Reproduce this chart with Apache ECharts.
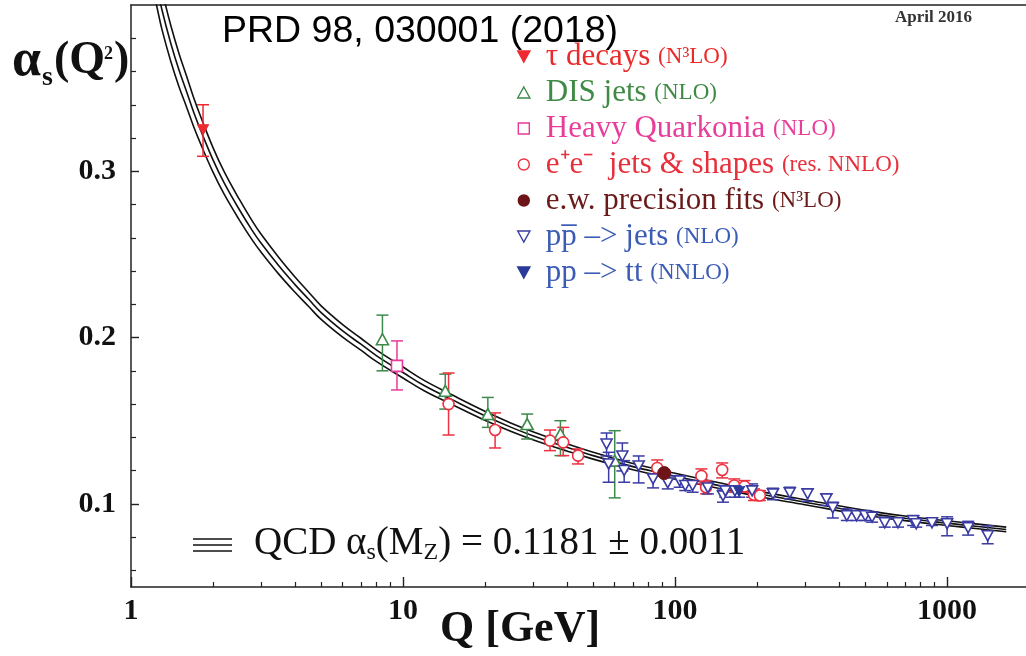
<!DOCTYPE html>
<html>
<head>
<meta charset="utf-8">
<script src="https://cdn.jsdelivr.net/npm/echarts@6/dist/echarts.min.js"></script>
<style>
html, body { margin: 0; padding: 0; background: #fff; }
#main { width: 1026px; height: 656px; }
</style>
</head>
<body>
<div id="main"></div>
<script>
// axis ticks
var xMajor = [1, 10, 100, 1000];
var xMinor = [2, 3, 4, 5, 6, 7, 8, 9, 20, 30, 40, 50, 60, 70, 80, 90, 200, 300, 400, 500, 600, 700, 800, 900];
var yMajor = [0.1, 0.2, 0.3];
var yMinor = [0.06, 0.08, 0.12, 0.14, 0.16, 0.18, 0.22, 0.24, 0.26, 0.28, 0.32, 0.34, 0.36, 0.38];

// QCD band (three lines)
var curveQ   = [1.2, 1.25, 1.3, 1.4, 1.5, 1.6, 1.7, 1.8, 2, 2.2, 2.5, 2.8, 3, 3.5, 4, 4.5, 5, 6, 7, 8, 10, 12, 15, 20, 25, 30, 40, 50, 70, 91.2, 100, 150, 200, 300, 500, 700, 1000, 1300, 1650];
var curveMid = [0.424, 0.410, 0.397, 0.377, 0.361, 0.348, 0.3355, 0.325, 0.307, 0.293, 0.277, 0.264, 0.257, 0.243, 0.232, 0.223, 0.215, 0.204, 0.196, 0.189, 0.179, 0.171, 0.163, 0.153, 0.146, 0.141, 0.134, 0.129, 0.1224, 0.1181, 0.1166, 0.1105, 0.1062, 0.1010, 0.0946, 0.0913, 0.0884, 0.0864, 0.0846];
var curveUp  = [0.4370, 0.4224, 0.4088, 0.3878, 0.3710, 0.3573, 0.3442, 0.3332, 0.3144, 0.2998, 0.2832, 0.2697, 0.2624, 0.2480, 0.2366, 0.2273, 0.2191, 0.2078, 0.1996, 0.1925, 0.1823, 0.1741, 0.1659, 0.1557, 0.1485, 0.1434, 0.1362, 0.1311, 0.1243, 0.1199, 0.1184, 0.1122, 0.1078, 0.1025, 0.0961, 0.0927, 0.0898, 0.0878, 0.0860];
var curveLow = [0.4110, 0.3976, 0.3852, 0.3662, 0.3510, 0.3387, 0.3268, 0.3168, 0.2996, 0.2862, 0.2708, 0.2583, 0.2516, 0.2380, 0.2274, 0.2187, 0.2109, 0.2002, 0.1924, 0.1855, 0.1757, 0.1679, 0.1601, 0.1503, 0.1435, 0.1386, 0.1318, 0.1269, 0.1205, 0.1163, 0.1148, 0.1088, 0.1046, 0.0995, 0.0931, 0.0899, 0.0870, 0.0850, 0.0832];

// measurements: [Q, alpha, low, high]
var tauDecays = [[1.84, 0.325, 0.309, 0.340]];
var disJets = [
    [8.4, 0.199, 0.180, 0.2135], [14.3, 0.168, 0.157, 0.178], [20.5, 0.154, 0.146, 0.164],
    [28.6, 0.148, 0.139, 0.154], [37.9, 0.142, 0.129, 0.150], [60, 0.126, 0.1036, 0.144]
];
var quarkonia = [[9.5, 0.183, 0.1685, 0.198]];
var eeJets = [
    [14.7, 0.160, 0.1414, 0.1787], [21.8, 0.1444, 0.1336, 0.1547], [34.7, 0.138, 0.132, 0.1444],
    [38.8, 0.137, 0.129, 0.146], [44, 0.129, 0.124, 0.133], [86, 0.1216, 0.118, 0.1264],
    [125, 0.1168, 0.112, 0.121], [130, 0.110, 0.106, 0.114], [149, 0.1204, 0.1156, 0.1246],
    [165, 0.111, 0.107, 0.115], [180, 0.1105, 0.107, 0.114], [195, 0.1055, 0.102, 0.109],
    [205, 0.105, 0.102, 0.108]
];
var ewFits = [[91.2, 0.1185, 0.1185, 0.1185]];
var ppJets = [
    [56, 0.136, 0.1288, 0.1426], [57, 0.124, 0.113, 0.131], [64, 0.1288, 0.1198, 0.1366],
    [65, 0.120, 0.113, 0.126], [73.5, 0.1228, 0.1126, 0.1288], [83, 0.115, 0.1096, 0.118],
    [94, 0.1126, 0.109, 0.1168], [104, 0.1138, 0.110, 0.117], [109, 0.111, 0.108, 0.114],
    [116, 0.111, 0.107, 0.114], [132, 0.1096, 0.106, 0.113], [150, 0.1048, 0.101, 0.109],
    [153, 0.1078, 0.104, 0.111], [166, 0.1078, 0.104, 0.111], [192, 0.1078, 0.104, 0.112],
    [229, 0.106, 0.1025, 0.1094], [264, 0.1066, 0.103, 0.110], [307, 0.106, 0.1015, 0.109],
    [360, 0.103, 0.099, 0.106], [380, 0.0976, 0.0915, 0.101], [428, 0.0928, 0.090, 0.097],
    [465, 0.0928, 0.090, 0.096], [500, 0.0928, 0.090, 0.096], [530, 0.092, 0.089, 0.095],
    [590, 0.0886, 0.086, 0.092], [660, 0.0886, 0.086, 0.091], [750, 0.0898, 0.087, 0.093],
    [770, 0.088, 0.086, 0.091], [880, 0.0886, 0.087, 0.090], [1000, 0.088, 0.0808, 0.0922],
    [1195, 0.0856, 0.0812, 0.0895], [1410, 0.0808, 0.076, 0.0868]
];
var ppTT = [[172, 0.1075, 0.104, 0.111]];

var DOWN = 'path://M0,0L10,0L5,9Z';
var UP = 'path://M5,0L10,9L0,9Z';
var SQUARE = 'path://M0,0L10,0L10,10L0,10Z';

var labelMain = {
    tau: '\u03c4 decays', dis: 'DIS jets', hq: 'Heavy Quarkonia', ee: 'e\u207ae\u207b  jets & shapes',
    ew: 'e.w. precision fits', ppj: 'pp\u0305 \u2013> jets', pptt: 'pp \u2013> tt'
};
var labelSub = {
    tau: '(N\u00b3LO)', dis: '(NLO)', hq: '(NLO)', ee: '(res. NNLO)',
    ew: '(N\u00b3LO)', ppj: '(NLO)', pptt: '(NNLO)'
};

function zip(xs, ys) {
    return xs.map(function (x, i) { return [x, ys[i]]; });
}

function bandLine(ys) {
    return {
        type: 'line', data: zip(curveQ, ys), smooth: 0.4, showSymbol: false, silent: true,
        lineStyle: { color: '#111', width: 1.6 }, z: 1
    };
}

function errBars(rows, color) {
    return {
        type: 'custom', silent: true, z: 2,
        data: rows.map(function (r) { return [r[0], r[2], r[3]]; }),
        encode: { x: 0, y: [1, 2] },
        renderItem: function (params, api) {
            var lo = api.coord([api.value(0), api.value(1)]);
            var hi = api.coord([api.value(0), api.value(2)]);
            var w = 6;
            var st = { stroke: color, lineWidth: 1.5 };
            return {
                type: 'group', children: [
                    { type: 'line', shape: { x1: lo[0], y1: lo[1], x2: hi[0], y2: hi[1] }, style: st },
                    { type: 'line', shape: { x1: lo[0] - w, y1: lo[1], x2: lo[0] + w, y2: lo[1] }, style: st },
                    { type: 'line', shape: { x1: hi[0] - w, y1: hi[1], x2: hi[0] + w, y2: hi[1] }, style: st }
                ]
            };
        }
    };
}

function points(name, rows, symbol, size, color, open) {
    return {
        type: 'scatter', name: name, z: 3,
        data: rows.map(function (r) { return [r[0], r[1]]; }),
        symbol: symbol, symbolSize: size,
        itemStyle: open ? { color: '#fff', borderColor: color, borderWidth: 1.6, opacity: 1 }
                        : { color: color, borderColor: color, borderWidth: 1, opacity: 1 }
    };
}

var cTau = '#ee2a30', cDis = '#3d8a4a', cHq = '#e8399a', cEe = '#ee3040', cEw = '#6e1418', cPp = '#3a3ca4';

var myChart = echarts.init(document.getElementById('main'));
var serif = '"Liberation Serif", "Times New Roman", serif';

var option = {
    backgroundColor: '#fff',
    animation: false,
    grid: { left: 131, right: 0, top: 5, bottom: 69, show: false },
    xAxis: [{
        type: 'log', logBase: 10, min: 1, max: 1950,
        axisLine: { show: true, lineStyle: { color: '#222', width: 1.5 } },
        axisTick: { inside: true, length: 10, customValues: xMajor, lineStyle: { color: '#222', width: 1.4 } },
        axisLabel: {
            customValues: xMajor, margin: 9, color: '#111', fontFamily: serif, fontWeight: 'bold', fontSize: 30,
            formatter: function (v) { return String(Math.round(v)); }
        },
        splitLine: { show: false }
    }, {
        type: 'log', logBase: 10, min: 1, max: 1950, position: 'bottom',
        axisLine: { show: false },
        axisTick: { inside: true, length: 5, customValues: xMinor, lineStyle: { color: '#222', width: 1.2 } },
        axisLabel: { show: false },
        splitLine: { show: false }
    }, {
        type: 'log', logBase: 10, min: 1, max: 1950, position: 'top',
        axisLine: { show: true, lineStyle: { color: '#222', width: 1.5 } },
        axisTick: { show: false },
        axisLabel: { show: false },
        splitLine: { show: false }
    }],
    yAxis: [{
        type: 'value', min: 0.05, max: 0.4,
        axisLine: { show: true, lineStyle: { color: '#222', width: 1.5 } },
        axisTick: { show: true, inside: true, length: 8, customValues: yMajor, lineStyle: { color: '#222', width: 1.4 } },
        axisLabel: { customValues: yMajor, margin: 15, color: '#111', fontFamily: serif, fontWeight: 'bold', fontSize: 30 },
        splitLine: { show: false }
    }, {
        type: 'value', min: 0.05, max: 0.4, position: 'left',
        axisLine: { show: false },
        axisTick: { show: true, inside: true, length: 5, customValues: yMinor, lineStyle: { color: '#222', width: 1.2 } },
        axisLabel: { show: false },
        splitLine: { show: false }
    }],
    legend: {
        orient: 'vertical', left: 512, top: 36, itemGap: 5,
        itemWidth: 34, itemHeight: 11, selectedMode: false,
        itemStyle: { borderWidth: 1.4 },
        data: [
            { name: 'tau', textStyle: { color: '#ea2b2b' } },
            { name: 'dis', textStyle: { color: '#3f8a45' } },
            { name: 'hq', textStyle: { color: '#e83e9a' } },
            { name: 'ee', textStyle: { color: '#e8303c' } },
            { name: 'ew', textStyle: { color: '#6b1a1a' } },
            { name: 'ppj', textStyle: { color: '#3b5cb5' } },
            { name: 'pptt', textStyle: { color: '#3b5cb5' } }
        ],
        formatter: function (name) {
            return '{m|' + labelMain[name] + ' }{s|' + labelSub[name] + '}';
        },
        textStyle: {
            fontFamily: serif,
            rich: {
                m: { fontFamily: serif, fontSize: 31, lineHeight: 30 },
                s: { fontFamily: serif, fontSize: 23, lineHeight: 30 }
            }
        }
    },
    graphic: [
        { type: 'text', left: 222, top: 13, style: { text: 'PRD 98, 030001 (2018)', font: '37.5px "Liberation Sans", Arial, sans-serif', fill: '#000' } },
        { type: 'text', left: 895, top: 9, style: { text: 'April 2016', font: 'bold 17px ' + serif, fill: '#333' } },
        { type: 'text', left: 12, top: 36, style: { text: '\u03b1', font: 'bold 52px ' + serif, fill: '#111' } },
        { type: 'text', left: 42, top: 64, style: { text: 's', font: 'bold 28px ' + serif, fill: '#111' } },
        { type: 'text', left: 54, top: 38, style: { text: '(Q', font: 'bold 46px ' + serif, fill: '#111' } },
        { type: 'text', left: 104, top: 45, style: { text: '2', font: 'bold 18px ' + serif, fill: '#111' } },
        { type: 'text', left: 114, top: 38, style: { text: ')', font: 'bold 46px ' + serif, fill: '#111' } },
        { type: 'text', left: 440, top: 608, style: { text: 'Q [GeV]', font: 'bold 44px ' + serif, fill: '#111' } },
        { type: 'line', shape: { x1: 193, y1: 539, x2: 232, y2: 539 }, style: { stroke: '#111', lineWidth: 1.5 } },
        { type: 'line', shape: { x1: 193, y1: 545, x2: 232, y2: 545 }, style: { stroke: '#111', lineWidth: 1.5 } },
        { type: 'line', shape: { x1: 193, y1: 551, x2: 232, y2: 551 }, style: { stroke: '#111', lineWidth: 1.5 } },
        {
            type: 'text', left: 254, top: 524,
            style: {
                text: '{a|QCD \u03b1}{b|s}{a|(M}{b|Z}{a|) = 0.1181 \u00b1 0.0011}',
                fill: '#111',
                rich: {
                    a: { fontFamily: serif, fontSize: 39, lineHeight: 42, fill: '#111' },
                    b: { fontFamily: serif, fontSize: 24, lineHeight: 18, verticalAlign: 'bottom', fill: '#111' }
                }
            }
        }
    ],
    series: [
        bandLine(curveUp), bandLine(curveMid), bandLine(curveLow),
        errBars(tauDecays, cTau), errBars(disJets, cDis), errBars(quarkonia, cHq),
        errBars(eeJets, cEe), errBars(ppJets, cPp), errBars(ppTT, cPp),
        points('tau', tauDecays, DOWN, [11, 10], cTau, false),
        points('dis', disJets, UP, [12, 11], cDis, true),
        points('hq', quarkonia, SQUARE, [11, 11], cHq, true),
        points('ee', eeJets, 'circle', 11, cEe, true),
        points('ppj', ppJets, DOWN, [11, 10], cPp, true),
        points('pptt', ppTT, DOWN, [11, 10], '#2a3a9a', false),
        points('ew', ewFits, 'circle', 13, cEw, false)
    ]
};

myChart.setOption(option);
</script>
</body>
</html>
